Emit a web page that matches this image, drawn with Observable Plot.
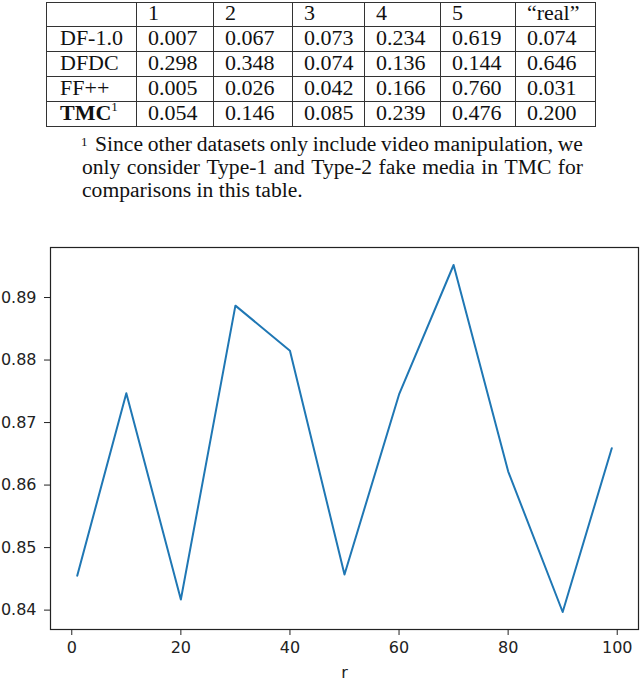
<!DOCTYPE html>
<html>
<head>
<meta charset="utf-8">
<script src="https://cdn.jsdelivr.net/npm/d3@7"></script>
<script src="https://cdn.jsdelivr.net/npm/@observablehq/plot@0.6"></script>
<style>
  html, body { margin: 0; padding: 0; background: #fff; }
  #page { position: relative; width: 640px; height: 681px; overflow: hidden; }
  #tbl { position: absolute; left: 0; top: 0; width: 640px; height: 130px; }
  .hl { position: absolute; height: 1px; background: #333; }
  .vl { position: absolute; width: 1px; background: #333; }
  .cell { position: absolute; font-family: "Liberation Serif", "Times New Roman", serif; font-size: 22px; color: #111; white-space: nowrap; }
  .cell sup { font-size: 13px; vertical-align: 9px; line-height: 0; font-weight: normal; }
  .fn { position: absolute; font-family: "Liberation Serif", "Times New Roman", serif; font-size: 21.6px; color: #111; white-space: nowrap; line-height: 23px; }
  .just { display: flex; justify-content: space-between; }
  #chart { position: absolute; left: 0; top: 230px; }
</style>
</head>
<body>
<div id="page">
  <div id="tbl"></div>
  <div class="fn" style="left:81px; top:130px; font-size:13px;">1</div>
  <div class="fn just" id="fn1" style="left:95px; top:133px; width:488px;"></div>
  <div class="fn just" id="fn2" style="left:82px; top:156px; width:501px;"></div>
  <div class="fn" id="fn3" style="left:82px; top:179px;"></div>
  <div id="chart"></div>
</div>
<script>
// ---- table data ----
const headerLabels = ["", "1", "2", "3", "4", "5", "\u201Creal\u201D"];
const datasetNames = ["DF-1.0", "DFDC", "FF++", "TMC"];
const valsDF10 = ["0.007", "0.067", "0.073", "0.234", "0.619", "0.074"];
const valsDFDC = ["0.298", "0.348", "0.074", "0.136", "0.144", "0.646"];
const valsFFpp = ["0.005", "0.026", "0.042", "0.166", "0.760", "0.031"];
const valsTMC  = ["0.054", "0.146", "0.085", "0.239", "0.476", "0.200"];
const footnoteLines = [
  "Since other datasets only include video manipulation, we",
  "only consider Type-1 and Type-2 fake media in TMC for",
  "comparisons in this table."
];

// ---- chart data ----
const rValues   = [1, 10, 20, 30, 40, 50, 60, 70, 80, 90, 99];
const accValues = [0.8455, 0.8747, 0.8417, 0.8887, 0.8815, 0.8457, 0.8745, 0.8952, 0.8622, 0.8397, 0.8659];
const xTicks = [0, 20, 40, 60, 80, 100];
const yTicks = [0.84, 0.85, 0.86, 0.87, 0.88, 0.89];

// ---- table layout ----
const colEdges = [46, 136, 213, 292, 364, 440, 515, 595];
const rowEdges = [2, 26, 51, 76, 101, 126];
const tbl = document.getElementById("tbl");
rowEdges.forEach(y => {
  const d = document.createElement("div"); d.className = "hl";
  d.style.left = colEdges[0] + "px"; d.style.top = y + "px";
  d.style.width = (colEdges[colEdges.length - 1] - colEdges[0] + 1) + "px";
  tbl.appendChild(d);
});
colEdges.forEach(x => {
  const d = document.createElement("div"); d.className = "vl";
  d.style.left = x + "px"; d.style.top = rowEdges[0] + "px";
  d.style.height = (rowEdges[rowEdges.length - 1] - rowEdges[0] + 1) + "px";
  tbl.appendChild(d);
});
const rowsAll = [headerLabels.slice(1), valsDF10, valsDFDC, valsFFpp, valsTMC];
const firstCol = [""].concat(datasetNames);
function addCell(html, ci, ri) {
  const d = document.createElement("div"); d.className = "cell";
  const top = rowEdges[ri], h = rowEdges[ri + 1] - rowEdges[ri];
  d.style.left = (colEdges[ci] + (ci === 0 ? 14 : 12)) + "px";
  d.style.top = (top - 1) + "px";
  d.style.lineHeight = h + "px";
  d.innerHTML = html;
  tbl.appendChild(d);
}
rowsAll.forEach((vals, ri) => {
  const name = firstCol[ri];
  addCell(name === "TMC" ? "<b>TMC</b><sup>1</sup>" : name, 0, ri);
  vals.forEach((v, ci) => addCell(v, ci + 1, ri));
});
function fillJustified(id, text) {
  const el = document.getElementById(id);
  text.split(" ").forEach(w => { const s = document.createElement("span"); s.textContent = w; el.appendChild(s); });
}
fillJustified("fn1", footnoteLines[0]);
fillJustified("fn2", footnoteLines[1]);
document.getElementById("fn3").textContent = footnoteLines[2];

// ---- chart ----
const data = rValues.map((r, i) => ({r, acc: accValues[i]}));
const chart = Plot.plot({
  width: 640,
  height: 451,
  marginLeft: 50,
  marginRight: 2,
  marginTop: 17,
  marginBottom: 52,
  style: { fontFamily: "DejaVu Sans, sans-serif", fontSize: "16px", color: "#222", background: "#fff" },
  x: { domain: [-3.9, 103.9], ticks: xTicks, tickFormat: d => String(d) },
  y: { domain: [0.8369, 0.8980], ticks: yTicks, tickFormat: d3.format(".2f") },
  marks: [
    Plot.frame({ stroke: "#222", strokeWidth: 1.2 }),
    Plot.axisX({ ticks: xTicks, tickSize: 6, tickPadding: 6, label: "r", labelAnchor: "center", labelArrow: "none", labelOffset: 48, tickFormat: d => String(d) }),
    Plot.axisY({ ticks: yTicks, tickSize: 6, tickPadding: 8, label: null, tickFormat: d3.format(".2f") }),
    Plot.line(data, { x: "r", y: "acc", stroke: "#1f77b4", strokeWidth: 2 })
  ]
});
document.getElementById("chart").appendChild(chart);
</script>
</body>
</html>
